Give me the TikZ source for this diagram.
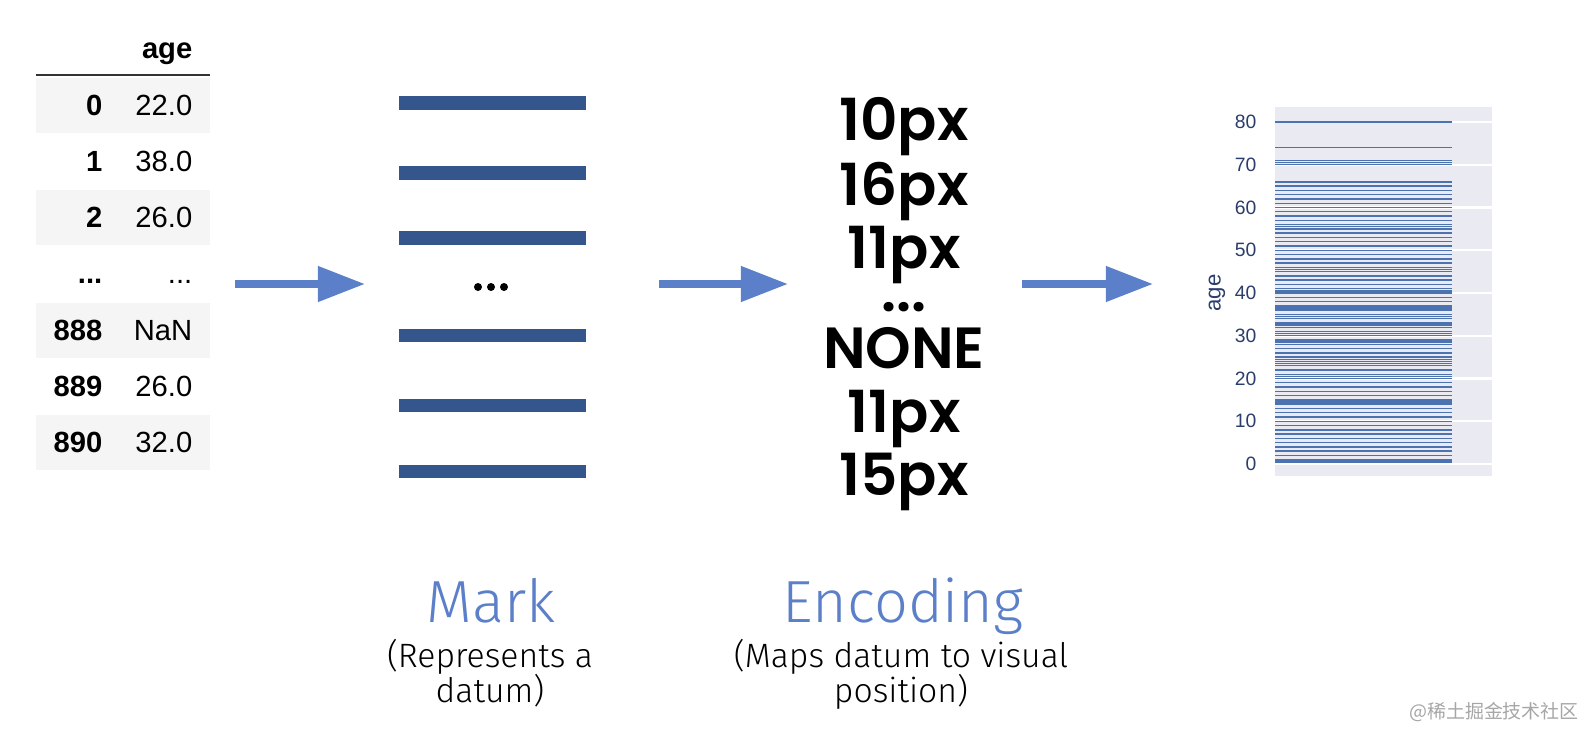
\documentclass[tikz,border=0pt]{standalone}
\usepackage{fontspec}
\setmainfont{Liberation Sans}
\newfontfamily\numfont{Poppins}[BoldFont=* SemiBold]
\newfontfamily\thinfont{Fira Sans}[UprightFont=* Light]
\newfontfamily\cjk{Noto Sans CJK SC}
\usetikzlibrary{arrows.meta}
\definecolor{rowgray}{HTML}{F5F5F5}
\definecolor{arrowblue}{HTML}{5B7FC8}
\definecolor{barblue}{HTML}{35568C}
\definecolor{panel}{HTML}{EAEAF2}
\definecolor{ageblue}{HTML}{4C72B0}
\definecolor{ticktext}{HTML}{2B3D6B}
\newcommand\skipdots{...}

\begin{document}
\begin{tikzpicture}[x=0.01cm,y=-0.01cm,
  cell/.style={inner sep=0pt,anchor=base east,font=\fontsize{8.3}{10}\selectfont},
  bigarrow/.style={arrowblue,line width=2.1pt,-{Triangle[length=13.4pt,width=9.7pt]}},
  markbar/.style={barblue,line width=3.7pt},
  encval/.style={inner sep=0pt,anchor=base,font=\numfont\bfseries\fontsize{16.5}{16}\selectfont},
  title/.style={arrowblue,inner sep=0pt,anchor=base,font=\thinfont\fontsize{16.9}{18}\selectfont},
  subtitle/.style={inner sep=0pt,anchor=base,font=\thinfont\fontsize{9.6}{10}\selectfont},
  ageline/.style={ageblue,line width=0.4pt}]
\useasboundingbox (0,0) rectangle (1584,736);

% table
\foreach \y in {78,190,303,415}
  \fill[rowgray] (36,\y) rectangle (210,\y+55);
\draw[black!80,line width=0.45pt] (36,75) -- (210,75);
\node[cell,font=\bfseries\fontsize{8.3}{10}\selectfont] (head) at (193,58) {age};
\foreach \y/\i/\v [count=\n] in {115/0/22.0,171/1/38.0,227/2/26.0,283/\skipdots/\skipdots,340/888/NaN,396/889/26.0,452/890/32.0}{
  \node[cell,font=\bfseries\fontsize{8.3}{10}\selectfont] (idx\n) at (103,\y) {\i};
  \node[cell] (val\n) at (193,\y) {\v};
}

% arrows
\coordinate (a1s) at (235,284);
\coordinate (a1e) at (365,284);
\coordinate (a2s) at (659,284);
\coordinate (a2e) at (788,284);
\coordinate (a3s) at (1022,284);
\coordinate (a3e) at (1153,284);
\draw[bigarrow] (a1s) -- (a1e);
\draw[bigarrow] (a2s) -- (a2e);
\draw[bigarrow] (a3s) -- (a3e);

% marks
\foreach \y in {103,173,238,335,405,471}
  \draw[markbar] (399,\y) -- (586,\y);
\foreach \x in {478,491,504}
  \fill (\x,287) circle[radius=4];

% encoding
\foreach \y/\t [count=\n] in {140/10px,205/16px,268/11px,311/\skipdots,368/NONE,432/11px,495/15px}
  \node[encval] (enc\n) at (904,\y) {\t};

% labels
\node[title] (mark) at (491,622) {Mark};
\node[subtitle] (markdesc1) at (490,667) {(Represents a};
\node[subtitle] (markdesc2) at (490,702) {datum)};
\node[title] (encoding) at (903,622) {Encoding};
\node[subtitle] (encdesc1) at (901,667) {(Maps datum to visual};
\node[subtitle] (encdesc2) at (901,702) {position)};

% plot
\fill[panel] (1275,107) rectangle (1492,476);
\foreach \v in {0,10,...,80}{
  \draw[white,line width=0.6pt] (1275,{464-4.275*\v}) -- (1492,{464-4.275*\v});
  \node[ticktext,anchor=east,inner sep=0pt,font=\fontsize{5.5}{6}\selectfont] (tick\v) at (1257,{464-4.275*\v}) {\v};
}
\foreach \a in {0.42,0.67,0.75,0.83,0.92,1,2,3,4,5,6,7,8,9,10,11,12,13,14,14.5,15,16,17,18,19,20,20.5,21,22,23,23.5,24,24.5,25,26,27,28,28.5,29,30,30.5,31,32,32.5,33,34,34.5,35,36,36.5,37,38,39,40,40.5,41,42,43,44,45,45.5,46,47,48,49,50,51,52,53,54,55,55.5,56,57,58,59,60,61,62,63,64,65,66,70,70.5,71,74,80}
  \draw[ageline] (1275,{464-4.275*\a}) -- (1452,{464-4.275*\a});
\node[ticktext,rotate=90,inner sep=0pt,font=\fontsize{6.3}{7}\selectfont] (ylabel) at (1217,293) {age};

\node[black!35,inner sep=0pt,font=\cjk\fontsize{5.4}{7}\selectfont] (wmark) at (1494,712) {@稀土掘金技术社区};
\end{tikzpicture}
\end{document}
